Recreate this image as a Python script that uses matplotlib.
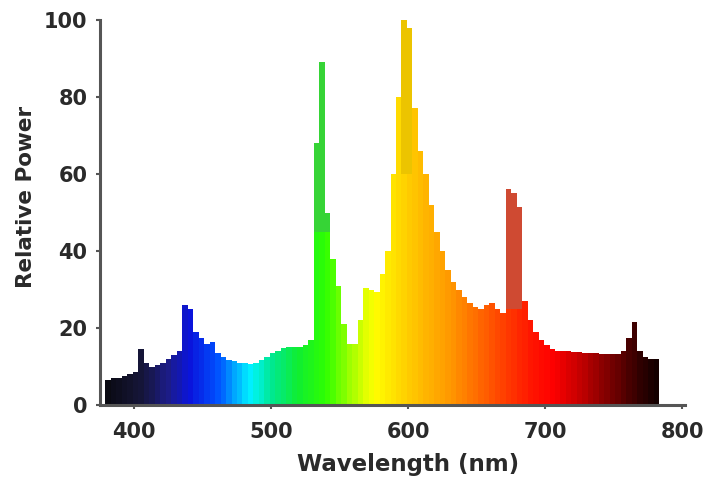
import numpy as np
import matplotlib
matplotlib.use("Agg")
import matplotlib.pyplot as plt
from matplotlib.colors import LinearSegmentedColormap

plt.rcParams['font.family'] = ['DejaVu Sans']
plt.rcParams['font.weight'] = 'bold'

# spectrum, 4 nm bins (bin centres in nm)
wavelength = np.arange(381, 782, 4)
power = [
    6.5, 7.0, 7.0, 7.5, 8.0, 8.5, 14.5, 11.0, 10.0, 10.5,      # 381-417
    11.0, 12.0, 13.0, 14.0, 26.0, 25.0, 19.0, 17.5, 16.0, 16.5,  # 421-457
    13.5, 12.5, 11.8, 11.5, 11.0, 11.0, 10.8, 11.0, 11.8, 12.5,  # 461-497
    13.5, 14.2, 14.8, 15.0, 15.0, 15.2, 15.5, 17.0, 68.0, 89.0,  # 501-537
    50.0, 38.0, 31.0, 21.0, 16.0, 16.0, 22.0, 30.5, 30.0, 29.5,  # 541-577
    34.0, 40.0, 60.0, 80.0, 100.0, 98.0, 77.0, 66.0, 60.0, 52.0,  # 581-617
    45.0, 40.0, 35.0, 32.0, 30.0, 28.0, 26.5, 25.5, 25.0, 26.0,  # 621-657
    26.5, 25.0, 24.0, 56.0, 55.0, 51.5, 27.0, 22.0, 19.0, 17.0,  # 661-697
    15.5, 14.5, 14.2, 14.0, 14.0, 13.8, 13.8, 13.6, 13.5, 13.5,  # 701-737
    13.4, 13.3, 13.2, 13.2, 14.0, 17.5, 21.5, 14.0, 12.5, 12.0,  # 741-777
    12.0,                                                        # 781
]

# emission lines: bin centre, level where the line rises off the continuum
line_nm = [533, 537, 541, 597, 601, 673, 677, 681]
line_base = [45, 45, 45, 60, 60, 25, 25, 25]
line_color = ['#36d436', '#36d436', '#36d436', '#ecc400', '#ecc400',
              '#cf4a32', '#cf4a32', '#cf4a32']

# colour of each bar taken from its wavelength
stops = [
    (380, '#0a0a12'), (405, '#16163a'), (425, '#1c1c8a'), (440, '#0a14dc'),
    (460, '#0050ff'), (485, '#00f4ff'), (500, '#00e890'), (520, '#10ee30'),
    (540, '#30ff00'), (560, '#b0ff00'), (575, '#ffff00'), (600, '#ffcc00'),
    (630, '#ff9900'), (660, '#ff5500'), (690, '#ff1500'), (705, '#ff0000'),
    (725, '#c80000'), (750, '#700000'), (770, '#300000'), (783, '#100000'),
]
lo, hi = stops[0][0], stops[-1][0]
spec_cmap = LinearSegmentedColormap.from_list(
    'spectrum', [((w - lo) / (hi - lo), c) for w, c in stops])
bar_colors = spec_cmap((wavelength - lo) / (hi - lo))

fig = plt.figure(figsize=(7.19, 4.83), dpi=100)
ax = fig.add_axes([0.139, 0.161, 0.814, 0.798])

ax.bar(wavelength, power, width=4.0, color=bar_colors, edgecolor='none',
       linewidth=0, zorder=2)

# upper part of the emission lines in a duller shade
pw = dict(zip(wavelength, power))
line_top = [pw[w] for w in line_nm]
ax.bar(line_nm, np.subtract(line_top, line_base), bottom=line_base,
       width=4.0, color=line_color, edgecolor='none', linewidth=0, zorder=2)

ax.set_xlim(375, 802)
ax.set_ylim(0, 100)
ax.set_xticks([400, 500, 600, 700, 800])
ax.set_yticks([0, 20, 40, 60, 80, 100])

for side in ['top', 'right']:
    ax.spines[side].set_visible(False)
for side in ['left', 'bottom']:
    ax.spines[side].set_color('#555555')
    ax.spines[side].set_linewidth(2.2)
    ax.spines[side].set_zorder(3)

ax.tick_params(axis='both', colors='#555555', width=1.5, length=3,
               labelsize=15, labelcolor='#2a2a2a')
ax.tick_params(axis='x', pad=9)
ax.tick_params(axis='y', pad=6)

ax.set_xlabel('Wavelength (nm)', fontsize=16.5, fontweight='bold',
              color='#2a2a2a', labelpad=8)
ax.set_ylabel('Relative Power', fontsize=15.5, fontweight='bold',
              color='#2a2a2a', labelpad=6)
ax.xaxis.label.set_x(0.527)
ax.yaxis.label.set_y(0.54)

fig.savefig('out.png', dpi=100)
